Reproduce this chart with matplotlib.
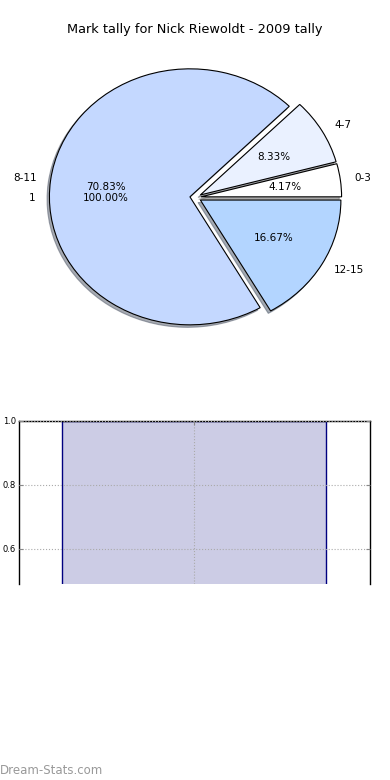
import matplotlib
matplotlib.use("Agg")
import matplotlib.pyplot as plt

# mark tally buckets and counts (games)
buckets = ['0-3', '4-7', '8-11', '12-15']
counts = [1, 2, 17, 4]
wedge_colors = ['#FFFFFF', '#EAF1FF', '#C4D8FF', '#B3D5FF']

# second (single-slice) pie that only leaves its labels behind
extra_labels = ['1']
extra_counts = [1]

# bar panel
bar_cats = [0]
bar_vals = [1.0]
yticks = [0.0, 0.2, 0.4, 0.6, 0.8, 1.0]

fig = plt.figure(figsize=(3.9, 7.8), dpi=100)

fig.text(0.5, 1 - 30 / 780, 'Mark tally for Nick Riewoldt - 2009 tally',
         ha='center', va='center', fontsize=9.3)

# pie axes (stretched, not equal aspect, like the old renderer)
ax = fig.add_axes([5.8 / 390, 1 - 370.3 / 780, 379.4 / 390, 345.6 / 780])

ax.pie(counts, labels=buckets, colors=wedge_colors, explode=[0.04] * len(counts),
       autopct='%1.2f%%', startangle=0,
       shadow={'ox': -0.012, 'oy': -0.014, 'shade': 0.6},
       wedgeprops={'edgecolor': 'black', 'linewidth': 0.8},
       textprops={'fontsize': 7.5})

wedges, texts, autotexts = ax.pie(extra_counts, labels=extra_labels, explode=[0.04],
                                  autopct='%1.2f%%', startangle=0,
                                  textprops={'fontsize': 7.5})
for w in wedges:
    w.set_visible(False)

ax.set_aspect('auto')
ax.set_xlim(-1.35, 1.35)
ax.set_ylim(-1.35, 1.35)
ax.axis('off')

# bar axes, cut off at the bottom
top_px, bot_px = 421, 584
ax2 = fig.add_axes([19 / 390, 1 - bot_px / 780, 351 / 390, (bot_px - top_px) / 780])
ax2.bar(bar_cats, bar_vals, width=0.8, color=(0, 0, 0.5, 0.2), edgecolor='navy', linewidth=1)
ax2.set_yticks(yticks)
ax2.set_yticklabels(['%.1f' % v for v in yticks])
ax2.set_xticks(bar_cats)
ax2.set_xticklabels([])
ax2.set_xlim(-0.530, 0.533)
ax2.set_ylim(1.0 - (bot_px - top_px) / 320, 1.0)
ax2.grid(True, linestyle=':', color='#AAAAAA', linewidth=0.8)
ax2.set_axisbelow(False)
ax2.tick_params(direction='in', length=3, color='#888888', labelsize=6, top=True, right=True,
                bottom=False, pad=2)
ax2.spines['bottom'].set_visible(False)
for s in ['left', 'right', 'top']:
    ax2.spines[s].set_linewidth(1)

fig.text(0, 1 - 770 / 780, 'Dream-Stats.com', ha='left', va='center',
         fontsize=8.5, color='#999999')

fig.savefig('out.png', dpi=100)
